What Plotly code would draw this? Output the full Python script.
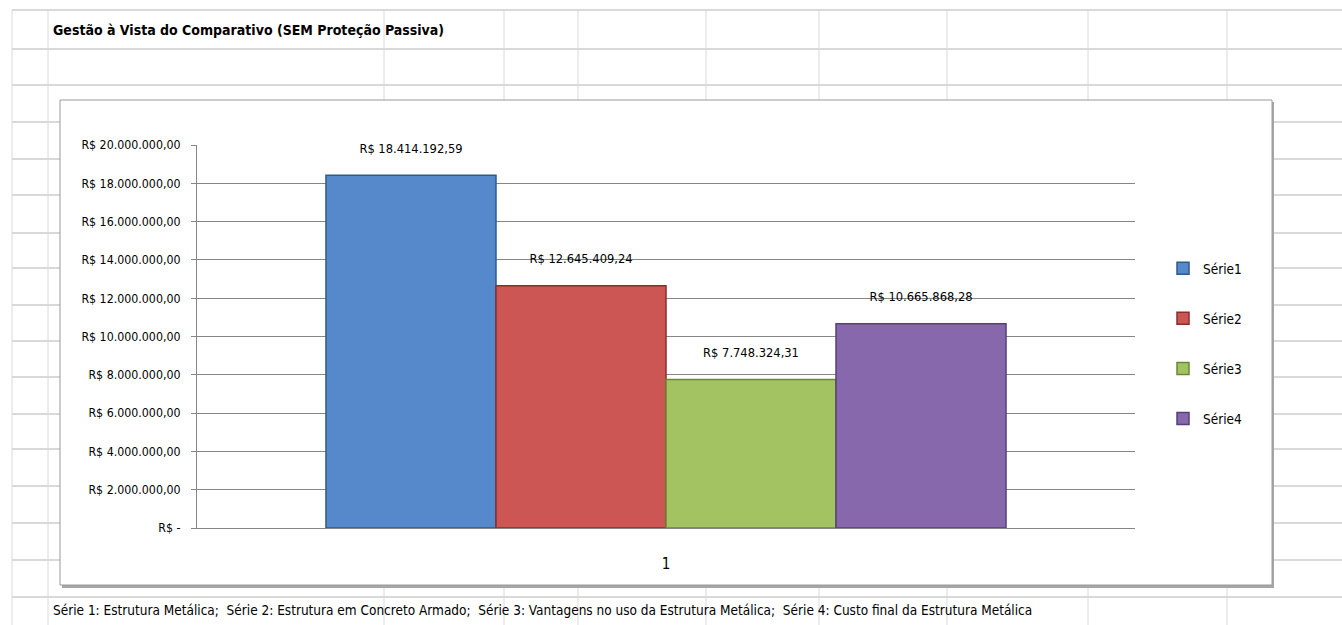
import plotly.graph_objects as go

# ---------------- data ----------------
title_text = "Gestão à Vista do Comparativo (SEM Proteção Passiva)"
footnote = ("Série 1: Estrutura Metálica;  Série 2: Estrutura em Concreto Armado;  "
            "Série 3: Vantagens no uso da Estrutura Metálica;  Série 4: Custo final da Estrutura Metálica")
categories = ["1"]
series_names = ["Série1", "Série2", "Série3", "Série4"]
series_values = [18414192.59, 12645409.24, 7748324.31, 10665868.28]
series_colors = ["#5589CC", "#CC5653", "#A3C362", "#8868AC"]
series_edges = ["#2E5A8C", "#8A2E2C", "#6B8634", "#57407A"]
y_tickvals = [0, 2e6, 4e6, 6e6, 8e6, 10e6, 12e6, 14e6, 16e6, 18e6, 20e6]
y_ticktext = ["R$ -", "R$ 2.000.000,00", "R$ 4.000.000,00", "R$ 6.000.000,00",
              "R$ 8.000.000,00", "R$ 10.000.000,00", "R$ 12.000.000,00",
              "R$ 14.000.000,00", "R$ 16.000.000,00", "R$ 18.000.000,00",
              "R$ 20.000.000,00"]

# spreadsheet background grid (pixel positions of cell borders)
sheet_cols = [12, 48, 384, 504, 578, 706, 819, 947, 1088, 1227]
sheet_rows = [10, 49, 85, 122, 159, 195, 233, 268, 305, 341, 377, 414, 449, 486, 523, 560, 597]

W, H = 1342, 625
FONT = "DejaVu Sans Condensed, DejaVu Sans, sans-serif"


def brl(v):
    s = f"{v:,.2f}"
    s = s.replace(",", "X").replace(".", ",").replace("X", ".")
    return "R$ " + s


def px(x):
    return x / W


def py(y):
    return 1 - y / H


fig = go.Figure()
for name, val, col, edge in zip(series_names, series_values, series_colors, series_edges):
    fig.add_trace(go.Bar(
        name=name, x=categories, y=[val],
        marker=dict(color=col, line=dict(color=edge, width=1.5)),
        text=[brl(val) + "<br> "], textposition="outside",
        textfont=dict(family=FONT, size=12.8, color="#000000"),
        cliponaxis=False, legendgroup=name,
    ))

shapes = []
for x in sheet_cols:
    shapes.append(dict(type="line", xref="paper", yref="paper", x0=px(x), x1=px(x), y0=0, y1=py(10),
                       line=dict(color="#DADADA", width=1), layer="below"))
for y in sheet_rows:
    shapes.append(dict(type="line", xref="paper", yref="paper", x0=px(12), x1=1, y0=py(y), y1=py(y),
                       line=dict(color="#D9D9D9", width=2), layer="below"))
# chart box shadow and box
shapes.append(dict(type="rect", xref="paper", yref="paper", x0=px(62), x1=px(1274), y0=py(588), y1=py(102),
                   line=dict(width=0), fillcolor="#A6A6A6", layer="below"))
shapes.append(dict(type="rect", xref="paper", yref="paper", x0=px(60), x1=px(1272), y0=py(585), y1=py(100),
                   line=dict(color="#9A9A9A", width=1), fillcolor="#FFFFFF", layer="below"))

fig.update_layout(
    width=W, height=H, autosize=False,
    margin=dict(l=0, r=0, t=0, b=0, pad=0),
    paper_bgcolor="#FFFFFF", plot_bgcolor="rgba(0,0,0,0)",
    barmode="group", bargap=0.275, bargroupgap=0,
    font=dict(family=FONT, size=13, color="#000000"),
    shapes=shapes,
    showlegend=True,
    legend=dict(x=px(1163), y=py(253), xanchor="left", yanchor="top",
                font=dict(family=FONT, size=13.5), tracegroupgap=29.5,
                bgcolor="rgba(0,0,0,0)", itemwidth=30),
    annotations=[
        dict(text="<b>" + title_text + "</b>", xref="paper", yref="paper", x=px(51), y=py(30),
             xanchor="left", yanchor="middle", showarrow=False,
             font=dict(family=FONT, size=14, color="#000000")),
        dict(text=footnote, xref="paper", yref="paper", x=px(51), y=py(610),
             xanchor="left", yanchor="middle", showarrow=False,
             font=dict(family=FONT, size=13.5, color="#000000")),
    ],
    xaxis=dict(domain=[px(197), px(1135)], type="category", showgrid=False,
               showline=True, linecolor="#868686", linewidth=1, ticks="",
               ticklabelstandoff=22, tickfont=dict(family=FONT, size=15),
               automargin=False),
    yaxis=dict(domain=[py(528), py(145)], range=[0, 20e6],
               tickvals=y_tickvals, ticktext=y_ticktext,
               showgrid=True, gridcolor="#868686", gridwidth=1,
               showline=True, linecolor="#868686", linewidth=1,
               ticks="outside", ticklen=5, tickcolor="#868686",
               ticklabelstandoff=8, tickfont=dict(family=FONT, size=12.3),
               zeroline=False, automargin=False),
)

reset_page = """
document.documentElement.style.margin='0';
document.body.style.margin='0';
document.body.style.padding='0';
document.body.style.overflow='hidden';
"""

fig.write_html("out.html", post_script=reset_page, config={"displayModeBar": False})
